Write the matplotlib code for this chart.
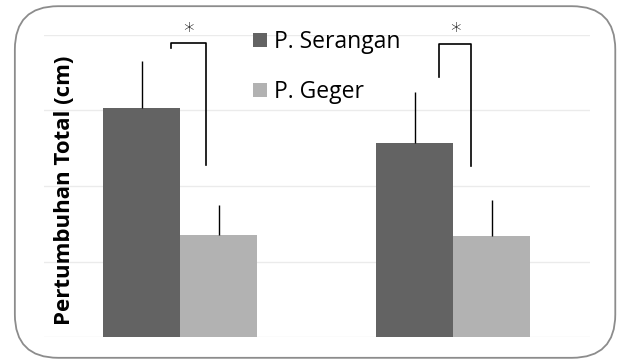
import matplotlib.pyplot as plt
from matplotlib.patches import FancyBboxPatch
import numpy as np

plt.rcParams['font.family'] = ['Open Sans', 'DejaVu Sans']

# 数据
groups = ['1', '2']
series = ['P. Serangan', 'P. Geger']
serangan = [3.03, 2.57]
geger = [1.35, 1.34]
serangan_err = [0.62, 0.68]
geger_err = [0.40, 0.48]
colors = ['#636363', '#b2b2b2']

fig = plt.figure(figsize=(6.19, 3.64), dpi=100)

# 圆角外框
box = FancyBboxPatch((0.024, 0.017), 0.97, 0.966, boxstyle='round,pad=0,rounding_size=0.07',
                     transform=fig.transFigure, facecolor='none', edgecolor='#8c8c8c',
                     linewidth=1.3, mutation_aspect=619 / 364, zorder=-1)
fig.patches.append(box)

ax = fig.add_axes([0.071, 0.074, 0.882, 0.83])
x = np.arange(len(groups))
w = 0.282

ax.bar(x - w / 2, serangan, w, color=colors[0], label=series[0], zorder=2)
ax.bar(x + w / 2, geger, w, color=colors[1], label=series[1], zorder=2)
ax.errorbar(x - w / 2, serangan, yerr=[np.zeros(2), serangan_err], fmt='none',
            ecolor='black', elinewidth=1, capsize=0, zorder=3)
ax.errorbar(x + w / 2, geger, yerr=[np.zeros(2), geger_err], fmt='none',
            ecolor='black', elinewidth=1, capsize=0, zorder=3)

# 显著性标记
brackets = [(-0.033, 0.092, 3.83, 3.89, 2.28), (0.949, 1.066, 3.44, 3.88, 2.26)]
for xl, xr, yl, yt, yr in brackets:
    ax.plot([xl, xl, xr, xr], [yl, yt, yt, yr], color='black', lw=1.2,
            clip_on=False, zorder=4)
    ax.text((xl + xr) / 2, yt + 0.02, '*', ha='center', va='bottom', fontsize=15,
            family='DejaVu Sans', fontweight='light', clip_on=False)

ax.set_xlim(-0.5, 1.5)
ax.set_ylim(0, 4.0)
ax.set_yticks([0, 1, 2, 3, 4])
ax.set_xticks([])
ax.tick_params(axis='y', length=0, labelleft=False)
ax.grid(axis='y', color='#ebebeb', lw=1, zorder=0)
for s in ax.spines.values():
    s.set_visible(False)
ax.set_facecolor('none')

ax.set_ylabel('Pertumbuhan Total (cm)', fontsize=16, fontweight='bold')
ax.yaxis.set_label_coords(0.057, 0.487)

ax.legend(loc='upper left', bbox_to_anchor=(0.345, 1.085), frameon=False, fontsize=16.5,
          handlelength=0.6, handleheight=0.6, handletextpad=0.3, labelspacing=1.15)

plt.savefig('out.png', dpi=100)
